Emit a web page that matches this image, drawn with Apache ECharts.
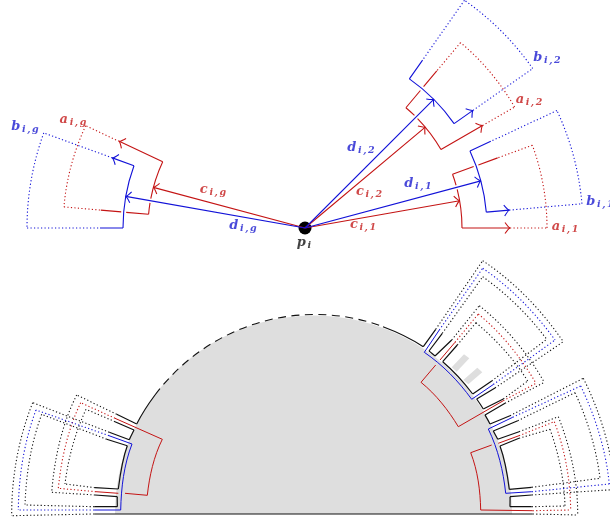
<!DOCTYPE html>
<html><head><meta charset="utf-8">
<style>html,body{margin:0;padding:0;background:#fff}#c{width:610px;height:523px}</style>
<script src="https://cdn.jsdelivr.net/npm/echarts@6/dist/echarts.min.js"></script>
</head><body><div id="c"></div>
<script>
const BLUE='#1212d8', RED='#c41414', BLACK='#111', GRAY='#dedede';
// ---- upper drawing: read as [radius, degrees] around the point p_i
const pi=[305,228];
const blueWedges=[[5,25],[35,55],[160,180]];           // [arrow side, other side]
const redWedges =[[0,20],[30,50],[155,175]];
const blueR=[182,205,278];                             // arc, arrow tip, far arc
const redR =[157,205,242];
const redArcPieces=[[0,14.2],[15.8,20],[30,44.2],[45.8,50],[155,169.2],[170.8,175]];
const redRadialPieces=[[20,157,179.5],[20,184.5,205],[50,157,179.5],[50,184.5,205],[175,157,179.5],[175,184.5,205],[0,157,205],[30,157,205],[155,157,205]];
const dAngles=[15,45,170], cAngles=[10,40,165];
// ---- lower drawing: page units
const disc=[313.5,514,198.5];
const grayBars=[[[464,354.3],[469.3,358.3],[456.7,371.7],[451.7,367.3]],[[477.3,367.7],[482.3,372.3],[468.3,384.3],[463.3,380]]];
const blackSolid=[
 [[116.7,414.3],[136.7,424]],[[115,421.7],[134,430]],[[109.3,432.3],[129.3,439.7]],[[106.7,439.3],[127.3,445.7]],
 [[95,487.7],[118.3,489]],[[95,495],[117.3,496.7]],[[94.3,506.7],[117.3,506.7]],[[94.3,514],[532.7,514]],
 [[423.3,346.7],[435.7,329.3]],[[429,351],[442.3,333.3]],[[435,356],[451.7,340]],[[442.7,361.7],[457.3,345]],
 [[472.7,394],[491.7,381]],[[476.7,399],[495,388]],[[483.3,409],[503.3,399]],[[485,415],[505,403.3]],
 [[490,424],[510,415.7]],[[493.3,431],[517.7,420.7]],[[497.7,439.3],[519,431.7]],[[500,446],[519,438.3]],
 [[509.3,489.3],[531.7,487.3]],[[510,496.7],[531.7,495]],[[510,506.7],[531.7,506.7]]];
const blackDotted=[
 [[116.7,414.3],[76.7,395]],[[115,421.7],[86,409.3]],[[109.3,432.3],[32.7,402.7]],[[106.7,439.3],[41.7,414.3]],
 [[95,487.7],[65,484]],[[95,495],[51.7,492.3]],[[94.3,506.7],[25,505]],[[94.3,514],[11.7,515.7]],
 [[435.7,329.3],[482.7,260.7]],[[442.3,333.3],[482.7,276.7]],[[491.7,381],[546.7,339.3]],[[495,388],[563.3,341.7]],
 [[451.7,340],[479.3,305.7]],[[457.3,345],[476,322.7]],[[503.3,399],[527.7,381]],[[505,403.3],[544.3,382.3]],
 [[510,415.7],[583.3,378.3]],[[517.7,420.7],[575,392.7]],[[531.7,487.3],[600,478.3]],[[531.7,495],[615,489.5]],
 [[519,431.7],[558.3,416.7]],[[519,438.3],[550,429.3]],[[531.7,506.7],[565,506]],[[532.7,514],[577.7,515]]];
const blueLowSolid=[[[94.3,510],[120.7,510]],[[132,444],[109,435.7]],[[531.7,491.7],[505.7,493.3]],[[488.3,429],[512.7,417.3]],[[493.3,384.5],[471.7,399.3]],[[424.3,352.3],[439.3,330]]];
const blueLowDotted=[[[94.3,510],[18.3,510]],[[109,435.7],[36,410]],[[531.7,491.7],[609.3,484]],[[512.7,417.3],[580.7,386]],[[493.3,384.5],[555,340]],[[439.3,330],[482.7,268.3]]];
const redLowSolid=[[[96,491.7],[118.3,493.3]],[[125,493.3],[147.3,495.3]],[[162.3,439.3],[115,418.3]],[[532.7,510.7],[480.7,510]],[[470.7,452.7],[491.7,445]],[[498.3,443.3],[519,435.7]],[[503.3,400.7],[458.3,426.7]],[[421,382.3],[435.7,365]],[[440,360],[455,342.3]]];
const redLowDotted=[[[96,491.7],[58.3,488.3]],[[115,418.3],[80.7,402.7]],[[532.7,510.7],[570.7,510]],[[519,435.7],[554.3,421.7]],[[503.3,400.7],[536,383.3]],[[455,342.3],[478.3,314]]];
const blackArcs=[[136.7,424,155,395],[134,430,129.3,439.7],[127.3,445.7,118.3,489],[117.3,496.7,117.3,506.7],[383,326.7,423.3,346.7],[429,351,435,356],[442.7,361.7,472.7,394],[476.7,399,483.3,409],[485,415,490,424],[493.3,431,497.7,439.3],[500,446,509.3,489.3],[510,496.7,510,506.7]];
const dashedArc=[155,395,383,326.7];
const blackDotArcs=[[32.7,402.7,11.7,515.7],[41.7,414.3,25,505],[76.7,395,51.7,492.3],[86,409.3,65,484],[482.7,260.7,563.3,341.7],[482.7,276.7,546.7,339.3],[479.3,305.7,544.3,382.3],[476,322.7,527.7,381],[583.3,378.3,615,489.5],[575,392.7,600,478.3],[558.3,416.7,577.7,515],[550,429.3,565,506]];
const blueLowArcs=[[120.7,510,132,444],[505.7,493.3,488.3,429],[471.7,399.3,424.3,352.3]];
const blueLowDotArcs=[[36,410,18.3,510],[580.7,386,609.3,484],[482.7,268.3,555,340]];
const redLowArcs=[[147.3,495.3,162.3,439.3],[480.7,510,470.7,452.7],[458.3,426.7,421,382.3]];
const redLowDotArcs=[[80.7,402.7,58.3,488.3],[554.3,421.7,570.7,510],[478.3,314,536,383.3]];
// ---- labels
const labelNames=[['p','i'],['a','i,g'],['b','i,g'],['c','i,g'],['d','i,g'],['d','i,2'],['c','i,2'],['d','i,1'],['c','i,1'],['a','i,1'],['b','i,1'],['a','i,2'],['b','i,2']];
const labelX=[304,73,25,213,243,361,369,418,363,565,600,529,547];
const labelY=[243,120,127,190,226,148,192,184,225,227,202,100,58];
const labelColors=['k','r','b','r','b','b','r','b','r','r','b','r','b'];

const tp=(r,a)=>[pi[0]+r*Math.cos(a*Math.PI/180),pi[1]-r*Math.sin(a*Math.PI/180)];
const joined=ls=>{const o=[];ls.forEach((l,i)=>{if(i)o.push([null,null]);l.forEach(p=>o.push(p));});return o;};
const lineS=(name,ls,color,width,dash)=>({name,type:'line',data:joined(ls),showSymbol:false,symbol:'none',silent:true,connectNulls:false,clip:false,
  lineStyle:{color,width,type:dash||'solid',cap:'butt',join:'miter'}});
function arcS(name,list,cx,cy,color,width,dash){return {name,type:'custom',silent:true,clip:false,data:list,encode:{x:[0,2],y:[1,3]},renderItem:(p,api)=>{
  const a=api.coord([api.value(0),api.value(1)]),b=api.coord([api.value(2),api.value(3)]),c=api.coord([cx,cy]);
  const t1=Math.atan2(a[1]-c[1],a[0]-c[0]),t2=Math.atan2(b[1]-c[1],b[0]-c[0]);
  let d=t2-t1;while(d>Math.PI)d-=2*Math.PI;while(d<-Math.PI)d+=2*Math.PI;
  const k=4/3*Math.tan(d/4),r1=Math.hypot(a[0]-c[0],a[1]-c[1]),r2=Math.hypot(b[0]-c[0],b[1]-c[1]);
  return {type:'bezierCurve',shape:{x1:a[0],y1:a[1],x2:b[0],y2:b[1],
    cpx1:a[0]-k*r1*Math.sin(t1),cpy1:a[1]+k*r1*Math.cos(t1),cpx2:b[0]+k*r2*Math.sin(t2),cpy2:b[1]-k*r2*Math.cos(t2)},
    style:{stroke:color,lineWidth:width,fill:null,lineDash:dash||null,lineCap:'butt'}};
}};}
function arrowS(name,list,color){return {name,type:'custom',silent:true,clip:false,data:list,encode:{x:0,y:1},renderItem:(p,api)=>{
  const q=api.coord([api.value(0),api.value(1)]),t=-api.value(2)*Math.PI/180,c=Math.cos(t),s=Math.sin(t);
  const R=(x,y)=>[q[0]+x*c-y*s,q[1]+x*s+y*c],mk=sg=>{const e=R(-5,sg*5.5),m=R(-1.5,sg*0.6);
    return {type:'bezierCurve',shape:{x1:q[0],y1:q[1],x2:e[0],y2:e[1],cpx1:m[0],cpy1:m[1]},style:{stroke:color,lineWidth:1.1,fill:null}};};
  return {type:'group',children:[mk(1),mk(-1)]};
}};}
const topArc=(r,a,b)=>[...tp(r,a),...tp(r,b)];
const radial=(a,r1,r2)=>[tp(r1,a),tp(r2,a)];
const wSolid=(w,R)=>[radial(w[0],R[1],R[0]),radial(w[1],R[0],R[1])];
const wDots=(w,R)=>[radial(w[0],R[1],R[2]),radial(w[1],R[2],R[1])];
const dot=[1.2,2.3];

const blueTopSolid=blueWedges.flatMap(w=>wSolid(w,blueR)).concat(dAngles.map(a=>radial(a,0,blueR[0])));
const blueTopDots=blueWedges.flatMap(w=>wDots(w,blueR));
const redTopSolid=redRadialPieces.map(v=>radial(v[0],v[1],v[2])).concat(cAngles.map(a=>radial(a,0,redR[0])));
const redTopDots=redWedges.flatMap(w=>wDots(w,redR));
const arrowsBlue=blueWedges.map(w=>[...tp(blueR[1],w[0]),w[0]]).concat(dAngles.map(a=>[...tp(blueR[0],a),a]));
const arrowsRed=redWedges.map(w=>[...tp(redR[1],w[0]),w[0]]).concat(cAngles.map(a=>[...tp(redR[0],a),a]));

const colorMap={k:'#111',r:'#c41c1c',b:'#1c1cd0'};
const labelData=labelNames.map((n,i)=>{const col=colorMap[labelColors[i]];
  const mStyle={fontFamily:'DejaVu Serif',fontStyle:'italic',fontWeight:'bold',fontSize:13,color:col};
  const sStyle={fontFamily:'DejaVu Serif',fontStyle:'italic',fontSize:9.5,color:col,verticalAlign:'bottom',padding:[5,0,0,1.6],fontWeight:'bold'};
  return {value:[labelX[i],labelY[i]],label:{color:col,rich:{m:mStyle,s:sStyle},
    formatter:'{m|'+n[0]+'}'+n[1].split('').map(ch=>'{s|'+ch+'}').join('')}};});

const series=[
 {name:'free space',type:'custom',silent:true,clip:false,data:[disc],encode:{x:0,y:1},renderItem:(p,api)=>{
   const c=api.coord([api.value(0),api.value(1)]),r=api.size([api.value(2),0])[0];
   return {type:'sector',shape:{cx:c[0],cy:c[1],r0:0,r,startAngle:Math.PI,endAngle:2*Math.PI},style:{fill:GRAY}};}},
 {name:'bars',type:'custom',silent:true,clip:false,data:grayBars.map(b=>b.flat()),encode:{x:0,y:1},renderItem:(p,api)=>{
   const pts=[0,2,4,6].map(i=>api.coord([api.value(i),api.value(i+1)]));
   return {type:'polygon',shape:{points:pts},style:{fill:GRAY}};}},
 lineS('black solid',blackSolid,BLACK,1.2),
 lineS('black dotted',blackDotted,BLACK,1.1,dot),
 arcS('black arcs',blackArcs,disc[0],disc[1],BLACK,1.2),
 arcS('dashed arc',[dashedArc],disc[0],disc[1],BLACK,1.1,[8,5.5]),
 arcS('black dotted arcs',blackDotArcs,disc[0],disc[1],BLACK,1.1,dot),
 lineS('red low',redLowSolid,RED,1),
 lineS('red low dots',redLowDotted,RED,1.1,dot),
 arcS('red low arcs',redLowArcs,disc[0],disc[1],RED,1),
 arcS('red low dot arcs',redLowDotArcs,disc[0],disc[1],RED,1.1,dot),
 lineS('blue low',blueLowSolid,BLUE,1),
 lineS('blue low dots',blueLowDotted,BLUE,1.1,dot),
 arcS('blue low arcs',blueLowArcs,disc[0],disc[1],BLUE,1),
 arcS('blue low dot arcs',blueLowDotArcs,disc[0],disc[1],BLUE,1.1,dot),
 lineS('red top',redTopSolid,RED,1.1),
 lineS('red top dots',redTopDots,RED,1.1,dot),
 arcS('red top arcs',redArcPieces.map(v=>topArc(redR[0],v[0],v[1])),pi[0],pi[1],RED,1.1),
 arcS('red top dot arcs',redWedges.map(w=>topArc(redR[2],w[0],w[1])),pi[0],pi[1],RED,1.1,dot),
 arrowS('red arrows',arrowsRed,RED),
 lineS('blue top',blueTopSolid,BLUE,1.1),
 lineS('blue top dots',blueTopDots,BLUE,1.1,dot),
 arcS('blue top arcs',blueWedges.map(w=>topArc(blueR[0],w[0],w[1])),pi[0],pi[1],BLUE,1.1),
 arcS('blue top dot arcs',blueWedges.map(w=>topArc(blueR[2],w[0],w[1])),pi[0],pi[1],BLUE,1.1,dot),
 arrowS('blue arrows',arrowsBlue,BLUE),
 {name:'p',type:'scatter',silent:true,data:[pi],symbolSize:13,itemStyle:{color:'#000',opacity:1}},
 {name:'labels',type:'scatter',silent:true,symbolSize:0,data:labelData,clip:false,label:{show:true,position:'inside',align:'center',verticalAlign:'middle'}}
];
const chart=echarts.init(document.getElementById('c'),null,{renderer:'canvas'});
chart.setOption({animation:false,backgroundColor:'#fff',
 grid:{left:0,right:0,top:0,bottom:0},
 xAxis:{type:'value',min:0,max:610,show:false},
 yAxis:{type:'value',min:0,max:523,inverse:true,show:false},
 series});
</script></body></html>
